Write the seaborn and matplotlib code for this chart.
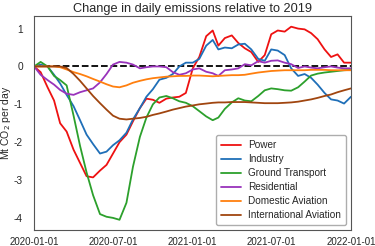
import pandas as pd
import numpy as np
import matplotlib
matplotlib.use('Agg')
import matplotlib.pyplot as plt
import matplotlib.dates as mdates
import seaborn as sns

# semimonthly sampling dates (1st and 16th of each month)
dates = pd.to_datetime([
    '2020-01-01', '2020-01-16', '2020-02-01', '2020-02-16', '2020-03-01', '2020-03-16',
    '2020-04-01', '2020-04-16', '2020-05-01', '2020-05-16', '2020-06-01', '2020-06-16',
    '2020-07-01', '2020-07-16', '2020-08-01', '2020-08-16', '2020-09-01', '2020-09-16',
    '2020-10-01', '2020-10-16', '2020-11-01', '2020-11-16', '2020-12-01', '2020-12-16',
    '2021-01-01', '2021-01-16', '2021-02-01', '2021-02-16', '2021-03-01', '2021-03-16',
    '2021-04-01', '2021-04-16', '2021-05-01', '2021-05-16', '2021-06-01', '2021-06-16',
    '2021-07-01', '2021-07-16', '2021-08-01', '2021-08-16', '2021-09-01', '2021-09-16',
    '2021-10-01', '2021-10-16', '2021-11-01', '2021-11-16', '2021-12-01', '2021-12-16',
    '2022-01-01'])

power = [0, -0.15, -0.55, -0.9, -1.5, -1.72, -2.2, -2.55, -2.9, -2.93, -2.75, -2.6,
         -2.3, -2.0, -1.8, -1.45, -1.1, -0.85, -0.88, -0.96, -0.85, -0.82, -0.8, -0.7,
         -0.05, 0.25, 0.8, 0.95, 0.55, 0.75, 0.82, 0.62, 0.48, 0.38, 0.12, 0.3,
         0.85, 0.95, 0.92, 1.05, 1.0, 0.98, 0.88, 0.72, 0.45, 0.25, 0.32, 0.1, 0.1]
industry = [0, 0.05, 0, -0.22, -0.45, -0.75, -1.05, -1.42, -1.8, -2.05, -2.3, -2.25,
            -2.08, -1.95, -1.75, -1.4, -1.1, -0.8, -0.6, -0.35, -0.3, -0.2, 0.0, 0.1,
            0.1, 0.2, 0.55, 0.7, 0.45, 0.5, 0.48, 0.58, 0.6, 0.45, 0.2, 0.15,
            0.45, 0.42, 0.3, -0.05, -0.25, -0.2, -0.3, -0.48, -0.7, -0.87, -0.9, -0.98, -0.8]
ground = [0, 0.12, 0.0, -0.25, -0.36, -0.5, -1.3, -2.1, -2.8, -3.4, -3.9, -3.97,
          -4.0, -4.05, -3.6, -2.65, -1.86, -1.35, -1.0, -0.82, -0.78, -0.84, -0.92, -0.96,
          -1.05, -1.18, -1.32, -1.42, -1.35, -1.12, -0.95, -0.84, -0.9, -0.92, -0.78, -0.63,
          -0.58, -0.6, -0.63, -0.64, -0.55, -0.4, -0.24, -0.19, -0.16, -0.14, -0.12, -0.1, -0.09]
residential = [0, -0.22, -0.36, -0.48, -0.62, -0.72, -0.75, -0.68, -0.63, -0.58, -0.42, -0.2,
               0.05, 0.12, 0.1, 0.05, -0.05, -0.02, 0, 0.0, -0.02, -0.15, -0.22, -0.18,
               -0.08, -0.05, -0.14, -0.18, -0.25, -0.1, -0.08, -0.05, 0.06, 0.03, 0.14, 0.1,
               0.15, 0.16, 0.1, 0.06, -0.04, 0.0, -0.03, -0.05, -0.02, 0.0, -0.03, -0.05, -0.05]
domestic_av = [0, 0, 0, 0, -0.02, -0.08, -0.15, -0.2, -0.26, -0.33, -0.4, -0.47,
               -0.53, -0.55, -0.5, -0.43, -0.38, -0.34, -0.31, -0.29, -0.27, -0.26, -0.25, -0.25,
               -0.24, -0.24, -0.25, -0.26, -0.25, -0.24, -0.23, -0.23, -0.22, -0.19, -0.16, -0.14,
               -0.12, -0.11, -0.1, -0.1, -0.1, -0.1, -0.09, -0.09, -0.09, -0.1, -0.1, -0.1, -0.1]
intl_av = [0, 0, 0, 0, 0, -0.04, -0.2, -0.38, -0.58, -0.78, -0.97, -1.14,
           -1.3, -1.38, -1.4, -1.38, -1.36, -1.33, -1.28, -1.24, -1.19, -1.14, -1.1, -1.06,
           -1.03, -1.0, -0.98, -0.96, -0.95, -0.95, -0.94, -0.94, -0.94, -0.95, -0.96, -0.97,
           -0.97, -0.97, -0.96, -0.95, -0.93, -0.9, -0.87, -0.83, -0.78, -0.74, -0.68, -0.63, -0.58]

sectors = ['Power', 'Industry', 'Ground Transport', 'Residential',
           'Domestic Aviation', 'International Aviation']
colors = ['#ee1111', '#1f6fb8', '#2ca02c', '#9933bb', '#ff7f0e', '#a0450f']

df = pd.DataFrame({'date': dates, 'Power': power, 'Industry': industry,
                   'Ground Transport': ground, 'Residential': residential,
                   'Domestic Aviation': domestic_av, 'International Aviation': intl_av})
long = df.melt(id_vars='date', var_name='sector', value_name='value')

sns.set_style('white')
plt.rcParams['font.family'] = ['Liberation Sans', 'DejaVu Sans']
plt.rcParams['axes.unicode_minus'] = False

fig = plt.figure(figsize=(3.75, 2.46), dpi=100)
ax = fig.add_axes([0.091, 0.065, 0.845, 0.868])

ax.axhline(0, color='black', linestyle='--', linewidth=1.3, zorder=1)
sns.lineplot(data=long, x='date', y='value', hue='sector', hue_order=sectors,
             palette=dict(zip(sectors, colors)), linewidth=1.3, ax=ax)

ax.set_xlim(pd.Timestamp('2020-01-01'), pd.Timestamp('2022-01-01'))
ax.set_ylim(-4.32, 1.32)
ax.set_yticks([1, 0, -1, -2, -3, -4])
ax.set_xticks(pd.to_datetime(['2020-01-01', '2020-07-01', '2021-01-01',
                              '2021-07-01', '2022-01-01']))
ax.xaxis.set_major_formatter(mdates.DateFormatter('%Y-%m-%d'))
ax.tick_params(axis='x', labelsize=7.0, pad=1.5)
ax.tick_params(axis='y', labelsize=7.3, pad=4.5)
ax.set_xlabel('')
ax.set_ylabel('Mt CO$_2$ per day', fontsize=7.5)
ax.yaxis.set_label_coords(-0.066, 0.5)
ax.set_title('Change in daily emissions relative to 2019', fontsize=9.2, pad=3)
for s in ax.spines.values():
    s.set_color('#555555')

leg = ax.legend(loc='lower right', fontsize=7.2, frameon=True, handlelength=2.0,
                labelspacing=0.4, borderpad=0.5, handletextpad=0.7)
leg.get_frame().set_edgecolor('#999999')

fig.savefig('out.png', dpi=100)
